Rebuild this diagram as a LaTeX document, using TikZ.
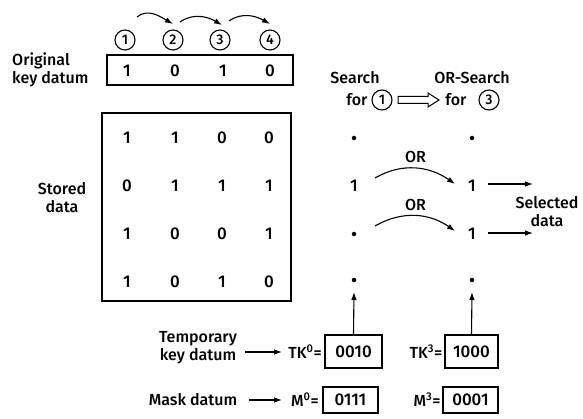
\documentclass[tikz,border=0pt]{standalone}
\usepackage{fontspec}
\setmainfont{Fira Sans}[UprightFont=* Medium]
\usetikzlibrary{arrows.meta,calc}

\begin{document}
\begin{tikzpicture}[x=1pt,y=-1pt,
  lbl/.style={font=\fontsize{16}{18}\selectfont,inner sep=0pt},
  bit/.style={font=\fontsize{17}{19}\selectfont,inner sep=0pt},
  num/.style={circle,draw,line width=1.1pt,minimum size=20pt,inner sep=0pt,
              font=\fontsize{14}{14}\selectfont},
  frame/.style={draw,line width=1.3pt,inner sep=0pt},
  dot/.style={circle,fill,inner sep=0pt,minimum size=4.5pt},
  arr/.style={-{Latex[length=8pt,width=5.5pt]},line width=1.1pt},
]
\useasboundingbox (0,0) rectangle (583,419);

% bit positions of the key and the shifting search order
\foreach \i/\x in {1/125,2/173,3/220,4/270}
  \node[num] (c\i) at (\x,40) {\i};
\draw[arr] ($(c1.center)+(12,-23)$) to[out=40,in=150] ($(c2.center)+(0,-16)$);
\draw[arr] ($(c2.center)+(7,-18)$) to[out=35,in=150] ($(c3.center)+(2,-15)$);
\draw[arr] ($(c3.center)+(9,-19)$) to[out=35,in=150] ($(c4.center)+(0,-16)$);

% original key datum
\node[lbl,align=left,anchor=west] (origlbl) at (12,70) {Original\\key datum};
\node[frame,minimum width=186pt,minimum height=30pt] (key) at (200,70) {};
\foreach \i/\x/\v in {1/127/1,2/175/0,3/223/1,4/270/0}
  \node[bit] (k\i) at (\x,71) {\v};

% stored data array
\node[lbl,align=center] (storelbl) at (62,198) {Stored\\data};
\node[frame,minimum width=189pt,minimum height=188pt] (store) at (196.5,207) {};
\foreach \r/\y/\a/\b/\c/\d in {1/138/1/1/0/0,2/186/0/1/1/1,3/234/1/0/0/1,4/282/1/0/1/0}{
  \node[bit] (s\r a) at (127,\y) {\a};
  \node[bit] (s\r b) at (175,\y) {\b};
  \node[bit] (s\r c) at (222,\y) {\c};
  \node[bit] (s\r d) at (269,\y) {\d};
}

% search headings
\node[lbl] (srch) at (355,78) {Search};
\node[lbl] (orsrch) at (472,78) {OR-Search};
\node[lbl] (for1) at (357,100) {for};
\node[num] (q1) at (382,100) {1};
\node[lbl] (for3) at (456,100) {for};
\node[num] (q3) at (489,100) {3};
\draw[line width=1pt,line join=miter]
  (398,96.5) -- (428,96.5) -- (428,93) -- (439,100) -- (428,107)
  -- (428,103.5) -- (398,103.5) -- cycle;

% match columns
\node[dot] (L1) at (354,138) {};
\node[bit] (L2) at (354,186) {1};
\node[dot] (L3) at (354,234) {};
\node[dot] (L4) at (354,280) {};
\node[dot] (R1) at (472,138) {};
\node[bit] (R2) at (472,186) {1};
\node[bit] (R3) at (472,234) {1};
\node[dot] (R4) at (472,280) {};

\draw[arr] ($(L2.center)+(21,-8)$) to[out=30,in=145]
  node[lbl,above=5pt] (or1) {OR} ($(R2.center)+(-17,-2)$);
\draw[arr] ($(L3.center)+(21,-8)$) to[out=30,in=145]
  node[lbl,above=5pt] (or2) {OR} ($(R3.center)+(-17,-3)$);

\coordinate (sel1) at (533,184);
\coordinate (sel2) at (533,233);
\draw[arr] ($(R2.center)+(16,-2)$) -- (sel1);
\draw[arr] ($(R3.center)+(16,-1)$) -- (sel2);
\node[lbl,align=center] (seldata) at (547,212) {Selected\\data};

% temporary key and mask data
\node[lbl,align=center] (tmplbl) at (198,348) {Temporary\\key datum};
\coordinate (tka) at (282,352);
\draw[arr] ($(tmplbl.east)+(8,4)$) -- (tka);
\node[lbl] (tk0l) at (305,352) {TK\textsuperscript{0}=};
\node[frame,bit,minimum width=57pt,minimum height=33pt] (tk0) at (353.5,351.5) {0010};
\node[lbl] (tk3l) at (426,352) {TK\textsuperscript{3}=};
\node[frame,bit,minimum width=53pt,minimum height=33pt] (tk3) at (471.5,351.5) {1000};
\draw[arr] (tk0.north) -- ($(L4.center)+(0,12)$);
\draw[arr] (tk3.north) -- ($(R4.center)+(0,12)$);

\node[lbl] (masklbl) at (193,400) {Mask datum};
\coordinate (mka) at (282,400);
\draw[arr] ($(masklbl.east)+(12,0)$) -- (mka);
\node[lbl] (m0l) at (305,400) {M\textsuperscript{0}=};
\node[frame,bit,minimum width=55pt,minimum height=26pt] (m0) at (350.5,400) {0111};
\node[lbl] (m3l) at (427,400) {M\textsuperscript{3}=};
\node[frame,bit,minimum width=55pt,minimum height=26pt] (m3) at (470.5,400) {0001};
\end{tikzpicture}
\end{document}
